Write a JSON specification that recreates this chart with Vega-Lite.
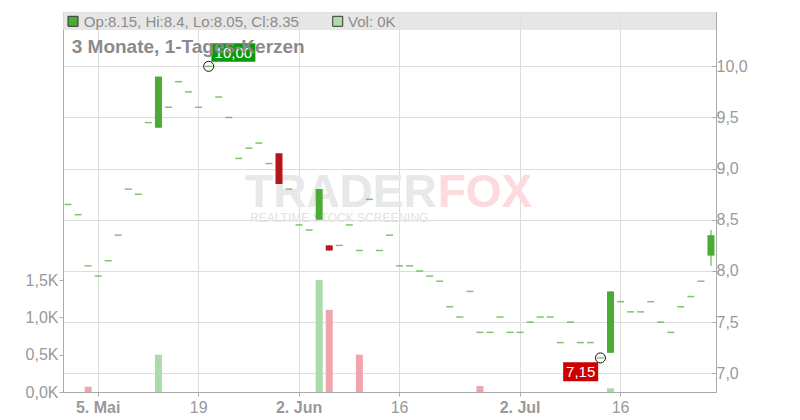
{
  "$schema": "https://vega.github.io/schema/vega-lite/v6.json",
  "width": 653,
  "height": 380,
  "autosize": {"type": "none"},
  "padding": {"left": 63, "top": 12, "right": 84, "bottom": 28},
  "background": "white",
  "config": {
    "font": "Liberation Sans",
    "view": {"stroke": "#cccccc"},
    "axis": {"labelFont": "Liberation Sans", "labelColor": "#999999", "labelFontSize": 16, "title": null, "domainColor": "#aaaaaa", "tickColor": "#aaaaaa", "tickSize": 4, "gridColor": "#dddddd"},
    "axisX": {"labelAngle": 0, "labelPadding": 3, "bandPosition": 0.5},
    "axisRight": {"labelPadding": 4, "tickSize": -4},
    "axisLeft": {"grid": false, "labelPadding": 1}
  },
  "datasets": {
    "ohlc": [
      {"d":"2025-04-29","o":8.65,"h":8.65,"l":8.65,"c":8.65,"v":0},
      {"d":"2025-04-30","o":8.55,"h":8.55,"l":8.55,"c":8.55,"v":0},
      {"d":"2025-05-02","o":8.05,"h":8.05,"l":8.05,"c":8.05,"v":70,"t":"down"},
      {"d":"2025-05-05","o":7.95,"h":7.95,"l":7.95,"c":7.95,"v":0},
      {"d":"2025-05-06","o":8.10,"h":8.10,"l":8.10,"c":8.10,"v":0},
      {"d":"2025-05-07","o":8.35,"h":8.35,"l":8.35,"c":8.35,"v":0},
      {"d":"2025-05-08","o":8.80,"h":8.80,"l":8.80,"c":8.80,"v":0},
      {"d":"2025-05-09","o":8.75,"h":8.75,"l":8.75,"c":8.75,"v":0},
      {"d":"2025-05-12","o":9.45,"h":9.45,"l":9.45,"c":9.45,"v":0},
      {"d":"2025-05-13","o":9.40,"h":9.90,"l":9.40,"c":9.90,"v":500,"t":"up"},
      {"d":"2025-05-14","o":9.60,"h":9.60,"l":9.60,"c":9.60,"v":0},
      {"d":"2025-05-15","o":9.85,"h":9.85,"l":9.85,"c":9.85,"v":0},
      {"d":"2025-05-16","o":9.75,"h":9.75,"l":9.75,"c":9.75,"v":0},
      {"d":"2025-05-19","o":9.60,"h":9.60,"l":9.60,"c":9.60,"v":0},
      {"d":"2025-05-20","o":10.00,"h":10.00,"l":10.00,"c":10.00,"v":0},
      {"d":"2025-05-21","o":9.70,"h":9.70,"l":9.70,"c":9.70,"v":0},
      {"d":"2025-05-22","o":9.50,"h":9.50,"l":9.50,"c":9.50,"v":0},
      {"d":"2025-05-23","o":9.10,"h":9.10,"l":9.10,"c":9.10,"v":0},
      {"d":"2025-05-26","o":9.20,"h":9.20,"l":9.20,"c":9.20,"v":0},
      {"d":"2025-05-27","o":9.25,"h":9.25,"l":9.25,"c":9.25,"v":0},
      {"d":"2025-05-28","o":9.05,"h":9.05,"l":9.05,"c":9.05,"v":0},
      {"d":"2025-05-29","o":9.15,"h":9.15,"l":8.85,"c":8.85,"v":0},
      {"d":"2025-05-30","o":8.80,"h":8.80,"l":8.80,"c":8.80,"v":0},
      {"d":"2025-06-02","o":8.45,"h":8.45,"l":8.45,"c":8.45,"v":0},
      {"d":"2025-06-03","o":8.40,"h":8.40,"l":8.40,"c":8.40,"v":0},
      {"d":"2025-06-04","o":8.50,"h":8.80,"l":8.50,"c":8.80,"v":1500,"t":"up"},
      {"d":"2025-06-05","o":8.25,"h":8.25,"l":8.20,"c":8.20,"v":1100,"t":"down"},
      {"d":"2025-06-06","o":8.25,"h":8.25,"l":8.25,"c":8.25,"v":0},
      {"d":"2025-06-09","o":8.45,"h":8.45,"l":8.45,"c":8.45,"v":0},
      {"d":"2025-06-10","o":8.20,"h":8.20,"l":8.20,"c":8.20,"v":500,"t":"down"},
      {"d":"2025-06-11","o":8.70,"h":8.70,"l":8.70,"c":8.70,"v":0},
      {"d":"2025-06-12","o":8.20,"h":8.20,"l":8.20,"c":8.20,"v":0},
      {"d":"2025-06-13","o":8.35,"h":8.35,"l":8.35,"c":8.35,"v":0},
      {"d":"2025-06-16","o":8.05,"h":8.05,"l":8.05,"c":8.05,"v":0},
      {"d":"2025-06-17","o":8.05,"h":8.05,"l":8.05,"c":8.05,"v":0},
      {"d":"2025-06-18","o":8.00,"h":8.00,"l":8.00,"c":8.00,"v":0},
      {"d":"2025-06-19","o":7.95,"h":7.95,"l":7.95,"c":7.95,"v":0},
      {"d":"2025-06-20","o":7.90,"h":7.90,"l":7.90,"c":7.90,"v":0},
      {"d":"2025-06-23","o":7.65,"h":7.65,"l":7.65,"c":7.65,"v":0},
      {"d":"2025-06-24","o":7.55,"h":7.55,"l":7.55,"c":7.55,"v":0},
      {"d":"2025-06-25","o":7.80,"h":7.80,"l":7.80,"c":7.80,"v":0},
      {"d":"2025-06-26","o":7.40,"h":7.40,"l":7.40,"c":7.40,"v":80,"t":"down"},
      {"d":"2025-06-27","o":7.40,"h":7.40,"l":7.40,"c":7.40,"v":0},
      {"d":"2025-06-30","o":7.55,"h":7.55,"l":7.55,"c":7.55,"v":0},
      {"d":"2025-07-01","o":7.40,"h":7.40,"l":7.40,"c":7.40,"v":0},
      {"d":"2025-07-02","o":7.40,"h":7.40,"l":7.40,"c":7.40,"v":0},
      {"d":"2025-07-03","o":7.50,"h":7.50,"l":7.50,"c":7.50,"v":0},
      {"d":"2025-07-04","o":7.55,"h":7.55,"l":7.55,"c":7.55,"v":0},
      {"d":"2025-07-07","o":7.55,"h":7.55,"l":7.55,"c":7.55,"v":0},
      {"d":"2025-07-08","o":7.30,"h":7.30,"l":7.30,"c":7.30,"v":0},
      {"d":"2025-07-09","o":7.50,"h":7.50,"l":7.50,"c":7.50,"v":0},
      {"d":"2025-07-10","o":7.30,"h":7.30,"l":7.30,"c":7.30,"v":0},
      {"d":"2025-07-11","o":7.30,"h":7.30,"l":7.30,"c":7.30,"v":0},
      {"d":"2025-07-14","o":7.15,"h":7.15,"l":7.15,"c":7.15,"v":0},
      {"d":"2025-07-15","o":7.20,"h":7.80,"l":7.20,"c":7.80,"v":50,"t":"up"},
      {"d":"2025-07-16","o":7.70,"h":7.70,"l":7.70,"c":7.70,"v":0},
      {"d":"2025-07-17","o":7.60,"h":7.60,"l":7.60,"c":7.60,"v":0},
      {"d":"2025-07-18","o":7.60,"h":7.60,"l":7.60,"c":7.60,"v":0},
      {"d":"2025-07-21","o":7.70,"h":7.70,"l":7.70,"c":7.70,"v":0},
      {"d":"2025-07-22","o":7.50,"h":7.50,"l":7.50,"c":7.50,"v":0},
      {"d":"2025-07-23","o":7.40,"h":7.40,"l":7.40,"c":7.40,"v":0},
      {"d":"2025-07-24","o":7.65,"h":7.65,"l":7.65,"c":7.65,"v":0},
      {"d":"2025-07-25","o":7.75,"h":7.75,"l":7.75,"c":7.75,"v":0},
      {"d":"2025-07-28","o":7.90,"h":7.90,"l":7.90,"c":7.90,"v":0},
      {"d":"2025-07-29","o":8.15,"h":8.40,"l":8.05,"c":8.35,"v":0}
    ]
  },
  "data": {"name": "ohlc"},
  "layer": [
    {
      "transform": [{"filter": "datum.v > 0"}],
      "mark": {"type": "bar", "width": 7},
      "encoding": {
        "x": {"field": "d", "type": "ordinal", "scale": {"type": "band", "paddingInner": 0, "paddingOuter": 0},
          "axis": {"values": ["2025-05-05", "2025-05-19", "2025-06-02", "2025-06-16", "2025-07-02", "2025-07-16"], "labelExpr": "datum.value == '2025-05-05' ? '5. Mai' : datum.value == '2025-05-19' ? '19' : datum.value == '2025-06-02' ? '2. Jun' : datum.value == '2025-06-16' ? '16' : datum.value == '2025-07-02' ? '2. Jul' : '16'", "labelFontWeight": {"condition": {"test": "datum.value == '2025-05-05' || datum.value == '2025-06-02' || datum.value == '2025-07-02'", "value": "bold"}, "value": "normal"}, "grid": true}},
        "y": {"field": "v", "type": "quantitative", "scale": {"domain": [0, 5090], "nice": false},
          "axis": {"orient": "left", "values": [0, 500, 1000, 1500], "labelExpr": "replace(format(datum.value / 1000, '.1f'), '.', ',') + 'K'", "grid": false}},
        "color": {"condition": {"test": "datum.t === 'down'", "value": "#f0a5ad"}, "value": "#aadcaa"}
      }
    },
    {
      "layer": [
        {
          "data": {"values": [{}]},
          "mark": {"type": "text", "text": "TRADER", "align": "right", "baseline": "alphabetic", "fontSize": 46, "fontWeight": "bold", "color": "#e8e8e8", "dx": -3},
          "encoding": {
            "x": {"datum": "2025-06-20", "type": "ordinal", "scale": {"type": "band", "paddingInner": 0, "paddingOuter": 0},
              "axis": {"values": ["2025-05-05", "2025-05-19", "2025-06-02", "2025-06-16", "2025-07-02", "2025-07-16"], "labelExpr": "datum.value == '2025-05-05' ? '5. Mai' : datum.value == '2025-05-19' ? '19' : datum.value == '2025-06-02' ? '2. Jun' : datum.value == '2025-06-16' ? '16' : datum.value == '2025-07-02' ? '2. Jul' : '16'", "labelFontWeight": {"condition": {"test": "datum.value == '2025-05-05' || datum.value == '2025-06-02' || datum.value == '2025-07-02'", "value": "bold"}, "value": "normal"}, "grid": true}},
            "y": {"datum": 8.625, "type": "quantitative", "scale": {"domain": [6.817, 10.531], "nice": false, "zero": false},
              "axis": {"orient": "right", "values": [7, 7.5, 8, 8.5, 9, 9.5, 10], "labelExpr": "replace(format(datum.value, '.1f'), '.', ',')", "grid": true}}
          }
        },
        {
          "data": {"values": [{}]},
          "mark": {"type": "text", "text": "FOX", "align": "left", "baseline": "alphabetic", "fontSize": 46, "fontWeight": "bold", "color": "#fcdade", "dx": -2},
          "encoding": {
            "x": {"datum": "2025-06-20", "type": "ordinal", "scale": {"type": "band", "paddingInner": 0, "paddingOuter": 0},
              "axis": {"values": ["2025-05-05", "2025-05-19", "2025-06-02", "2025-06-16", "2025-07-02", "2025-07-16"], "labelExpr": "datum.value == '2025-05-05' ? '5. Mai' : datum.value == '2025-05-19' ? '19' : datum.value == '2025-06-02' ? '2. Jun' : datum.value == '2025-06-16' ? '16' : datum.value == '2025-07-02' ? '2. Jul' : '16'", "labelFontWeight": {"condition": {"test": "datum.value == '2025-05-05' || datum.value == '2025-06-02' || datum.value == '2025-07-02'", "value": "bold"}, "value": "normal"}, "grid": true}},
            "y": {"datum": 8.625, "type": "quantitative", "scale": {"domain": [6.817, 10.531], "nice": false, "zero": false},
              "axis": {"orient": "right", "values": [7, 7.5, 8, 8.5, 9, 9.5, 10], "labelExpr": "replace(format(datum.value, '.1f'), '.', ',')", "grid": true}}
          }
        },
        {
          "data": {"values": [{}]},
          "mark": {"type": "text", "text": "REALTIME STOCK SCREENING", "align": "center", "baseline": "alphabetic", "fontSize": 12, "color": "#e2e2e2"},
          "encoding": {
            "x": {"datum": "2025-06-06", "type": "ordinal", "scale": {"type": "band", "paddingInner": 0, "paddingOuter": 0},
              "axis": {"values": ["2025-05-05", "2025-05-19", "2025-06-02", "2025-06-16", "2025-07-02", "2025-07-16"], "labelExpr": "datum.value == '2025-05-05' ? '5. Mai' : datum.value == '2025-05-19' ? '19' : datum.value == '2025-06-02' ? '2. Jun' : datum.value == '2025-06-16' ? '16' : datum.value == '2025-07-02' ? '2. Jul' : '16'", "labelFontWeight": {"condition": {"test": "datum.value == '2025-05-05' || datum.value == '2025-06-02' || datum.value == '2025-07-02'", "value": "bold"}, "value": "normal"}, "grid": true}},
            "y": {"datum": 8.478, "type": "quantitative", "scale": {"domain": [6.817, 10.531], "nice": false, "zero": false},
              "axis": {"orient": "right", "values": [7, 7.5, 8, 8.5, 9, 9.5, 10], "labelExpr": "replace(format(datum.value, '.1f'), '.', ',')", "grid": true}}
          }
        },
        {
          "mark": {"type": "rule", "strokeWidth": 1},
          "encoding": {
            "x": {"field": "d", "type": "ordinal", "scale": {"type": "band", "paddingInner": 0, "paddingOuter": 0},
              "axis": {"values": ["2025-05-05", "2025-05-19", "2025-06-02", "2025-06-16", "2025-07-02", "2025-07-16"], "labelExpr": "datum.value == '2025-05-05' ? '5. Mai' : datum.value == '2025-05-19' ? '19' : datum.value == '2025-06-02' ? '2. Jun' : datum.value == '2025-06-16' ? '16' : datum.value == '2025-07-02' ? '2. Jul' : '16'", "labelFontWeight": {"condition": {"test": "datum.value == '2025-05-05' || datum.value == '2025-06-02' || datum.value == '2025-07-02'", "value": "bold"}, "value": "normal"}, "grid": true}},
            "y": {"field": "l", "type": "quantitative", "scale": {"domain": [6.817, 10.531], "nice": false, "zero": false},
              "axis": {"orient": "right", "values": [7, 7.5, 8, 8.5, 9, 9.5, 10], "labelExpr": "replace(format(datum.value, '.1f'), '.', ',')", "grid": true}},
            "y2": {"field": "h"},
            "color": {"condition": {"test": "datum.c < datum.o", "value": "#b5151b"}, "value": "#4aab35"}
          }
        },
        {
          "transform": [{"filter": "datum.o != datum.c"}],
          "mark": {"type": "bar", "width": 7},
          "encoding": {
            "x": {"field": "d", "type": "ordinal", "scale": {"type": "band", "paddingInner": 0, "paddingOuter": 0},
              "axis": {"values": ["2025-05-05", "2025-05-19", "2025-06-02", "2025-06-16", "2025-07-02", "2025-07-16"], "labelExpr": "datum.value == '2025-05-05' ? '5. Mai' : datum.value == '2025-05-19' ? '19' : datum.value == '2025-06-02' ? '2. Jun' : datum.value == '2025-06-16' ? '16' : datum.value == '2025-07-02' ? '2. Jul' : '16'", "labelFontWeight": {"condition": {"test": "datum.value == '2025-05-05' || datum.value == '2025-06-02' || datum.value == '2025-07-02'", "value": "bold"}, "value": "normal"}, "grid": true}},
            "y": {"field": "o", "type": "quantitative", "scale": {"domain": [6.817, 10.531], "nice": false, "zero": false},
              "axis": {"orient": "right", "values": [7, 7.5, 8, 8.5, 9, 9.5, 10], "labelExpr": "replace(format(datum.value, '.1f'), '.', ',')", "grid": true}},
            "y2": {"field": "c"},
            "color": {"condition": {"test": "datum.c < datum.o", "value": "#b5151b"}, "value": "#4aab35"}
          }
        },
        {
          "transform": [{"filter": "datum.o == datum.c"}],
          "mark": {"type": "tick", "size": 7, "thickness": 1.5, "color": "#4aab35"},
          "encoding": {
            "x": {"field": "d", "type": "ordinal", "scale": {"type": "band", "paddingInner": 0, "paddingOuter": 0},
              "axis": {"values": ["2025-05-05", "2025-05-19", "2025-06-02", "2025-06-16", "2025-07-02", "2025-07-16"], "labelExpr": "datum.value == '2025-05-05' ? '5. Mai' : datum.value == '2025-05-19' ? '19' : datum.value == '2025-06-02' ? '2. Jun' : datum.value == '2025-06-16' ? '16' : datum.value == '2025-07-02' ? '2. Jul' : '16'", "labelFontWeight": {"condition": {"test": "datum.value == '2025-05-05' || datum.value == '2025-06-02' || datum.value == '2025-07-02'", "value": "bold"}, "value": "normal"}, "grid": true}},
            "y": {"field": "o", "type": "quantitative", "scale": {"domain": [6.817, 10.531], "nice": false, "zero": false},
              "axis": {"orient": "right", "values": [7, 7.5, 8, 8.5, 9, 9.5, 10], "labelExpr": "replace(format(datum.value, '.1f'), '.', ',')", "grid": true}}
          }
        },
        {
          "data": {"values": [{}]},
          "mark": {"type": "rect", "color": "#e2e2e2", "opacity": 0.85},
          "encoding": {
            "y": {"datum": 10.531, "type": "quantitative", "scale": {"domain": [6.817, 10.531], "nice": false, "zero": false},
              "axis": {"orient": "right", "values": [7, 7.5, 8, 8.5, 9, 9.5, 10], "labelExpr": "replace(format(datum.value, '.1f'), '.', ',')", "grid": true}},
            "y2": {"datum": 10.355}
          }
        },
        {
          "data": {"values": [{"txt": "Op:8.15, Hi:8.4, Lo:8.05, Cl:8.35", "col": "candle"}]},
          "layer": [
            {
              "mark": {"type": "point", "shape": "square", "size": 100, "filled": true, "fill": "#4aab35", "stroke": "#333333", "strokeWidth": 1, "opacity": 1, "xOffset": 5},
              "encoding": {
                "x": {"datum": "2025-04-29", "type": "ordinal", "scale": {"type": "band", "paddingInner": 0, "paddingOuter": 0},
                  "axis": {"values": ["2025-05-05", "2025-05-19", "2025-06-02", "2025-06-16", "2025-07-02", "2025-07-16"], "labelExpr": "datum.value == '2025-05-05' ? '5. Mai' : datum.value == '2025-05-19' ? '19' : datum.value == '2025-06-02' ? '2. Jun' : datum.value == '2025-06-16' ? '16' : datum.value == '2025-07-02' ? '2. Jul' : '16'", "labelFontWeight": {"condition": {"test": "datum.value == '2025-05-05' || datum.value == '2025-06-02' || datum.value == '2025-07-02'", "value": "bold"}, "value": "normal"}, "grid": true}},
                "y": {"datum": 10.44, "type": "quantitative", "scale": {"domain": [6.817, 10.531], "nice": false, "zero": false},
                  "axis": {"orient": "right", "values": [7, 7.5, 8, 8.5, 9, 9.5, 10], "labelExpr": "replace(format(datum.value, '.1f'), '.', ',')", "grid": true}}
              }
            },
            {
              "mark": {"type": "point", "shape": "square", "size": 100, "filled": true, "fill": "#aadcaa", "stroke": "#333333", "strokeWidth": 1, "opacity": 1, "xOffset": 269.7},
              "encoding": {
                "x": {"datum": "2025-04-29", "type": "ordinal", "scale": {"type": "band", "paddingInner": 0, "paddingOuter": 0},
                  "axis": {"values": ["2025-05-05", "2025-05-19", "2025-06-02", "2025-06-16", "2025-07-02", "2025-07-16"], "labelExpr": "datum.value == '2025-05-05' ? '5. Mai' : datum.value == '2025-05-19' ? '19' : datum.value == '2025-06-02' ? '2. Jun' : datum.value == '2025-06-16' ? '16' : datum.value == '2025-07-02' ? '2. Jul' : '16'", "labelFontWeight": {"condition": {"test": "datum.value == '2025-05-05' || datum.value == '2025-06-02' || datum.value == '2025-07-02'", "value": "bold"}, "value": "normal"}, "grid": true}},
                "y": {"datum": 10.44, "type": "quantitative", "scale": {"domain": [6.817, 10.531], "nice": false, "zero": false},
                  "axis": {"orient": "right", "values": [7, 7.5, 8, 8.5, 9, 9.5, 10], "labelExpr": "replace(format(datum.value, '.1f'), '.', ',')", "grid": true}}
              }
            },
            {
              "mark": {"type": "text", "text": "Op:8.15, Hi:8.4, Lo:8.05, Cl:8.35", "align": "left", "baseline": "alphabetic", "fontSize": 15, "color": "#8c8c8c", "dx": 15.7},
              "encoding": {
                "x": {"datum": "2025-04-29", "type": "ordinal", "scale": {"type": "band", "paddingInner": 0, "paddingOuter": 0},
                  "axis": {"values": ["2025-05-05", "2025-05-19", "2025-06-02", "2025-06-16", "2025-07-02", "2025-07-16"], "labelExpr": "datum.value == '2025-05-05' ? '5. Mai' : datum.value == '2025-05-19' ? '19' : datum.value == '2025-06-02' ? '2. Jun' : datum.value == '2025-06-16' ? '16' : datum.value == '2025-07-02' ? '2. Jul' : '16'", "labelFontWeight": {"condition": {"test": "datum.value == '2025-05-05' || datum.value == '2025-06-02' || datum.value == '2025-07-02'", "value": "bold"}, "value": "normal"}, "grid": true}},
                "y": {"datum": 10.387, "type": "quantitative", "scale": {"domain": [6.817, 10.531], "nice": false, "zero": false},
                  "axis": {"orient": "right", "values": [7, 7.5, 8, 8.5, 9, 9.5, 10], "labelExpr": "replace(format(datum.value, '.1f'), '.', ',')", "grid": true}}
              }
            },
            {
              "mark": {"type": "text", "text": "Vol: 0K", "align": "left", "baseline": "alphabetic", "fontSize": 15, "color": "#8c8c8c", "dx": 280},
              "encoding": {
                "x": {"datum": "2025-04-29", "type": "ordinal", "scale": {"type": "band", "paddingInner": 0, "paddingOuter": 0},
                  "axis": {"values": ["2025-05-05", "2025-05-19", "2025-06-02", "2025-06-16", "2025-07-02", "2025-07-16"], "labelExpr": "datum.value == '2025-05-05' ? '5. Mai' : datum.value == '2025-05-19' ? '19' : datum.value == '2025-06-02' ? '2. Jun' : datum.value == '2025-06-16' ? '16' : datum.value == '2025-07-02' ? '2. Jul' : '16'", "labelFontWeight": {"condition": {"test": "datum.value == '2025-05-05' || datum.value == '2025-06-02' || datum.value == '2025-07-02'", "value": "bold"}, "value": "normal"}, "grid": true}},
                "y": {"datum": 10.387, "type": "quantitative", "scale": {"domain": [6.817, 10.531], "nice": false, "zero": false},
                  "axis": {"orient": "right", "values": [7, 7.5, 8, 8.5, 9, 9.5, 10], "labelExpr": "replace(format(datum.value, '.1f'), '.', ',')", "grid": true}}
              }
            }
          ]
        },
        {
          "data": {"values": [{"d": "2025-05-20", "p": 10.0, "label": "10,00"}]},
          "encoding": {
            "x": {"field": "d", "type": "ordinal", "scale": {"type": "band", "paddingInner": 0, "paddingOuter": 0},
              "axis": {"values": ["2025-05-05", "2025-05-19", "2025-06-02", "2025-06-16", "2025-07-02", "2025-07-16"], "labelExpr": "datum.value == '2025-05-05' ? '5. Mai' : datum.value == '2025-05-19' ? '19' : datum.value == '2025-06-02' ? '2. Jun' : datum.value == '2025-06-16' ? '16' : datum.value == '2025-07-02' ? '2. Jul' : '16'", "labelFontWeight": {"condition": {"test": "datum.value == '2025-05-05' || datum.value == '2025-06-02' || datum.value == '2025-07-02'", "value": "bold"}, "value": "normal"}, "grid": true}},
            "y": {"field": "p", "type": "quantitative", "scale": {"domain": [6.817, 10.531], "nice": false, "zero": false},
              "axis": {"orient": "right", "values": [7, 7.5, 8, 8.5, 9, 9.5, 10], "labelExpr": "replace(format(datum.value, '.1f'), '.', ',')", "grid": true}}
          },
          "layer": [
            {"mark": {"type": "point", "shape": "M0.27,-2.3H4.67V-0.46H0.27Z", "size": 400, "filled": true, "fill": "#0b9a0b", "strokeWidth": 0, "opacity": 1}},
            {"mark": {"type": "text", "align": "center", "baseline": "middle", "fontSize": 15, "color": "#ffffff", "dx": 24.7, "dy": -13.5}, "encoding": {"text": {"field": "label"}}},
            {"mark": {"type": "point", "shape": "circle", "size": 100, "filled": false, "stroke": "#111111", "strokeWidth": 1, "opacity": 1}}
          ]
        },
        {
          "data": {"values": [{"d": "2025-07-14", "p": 7.15, "label": "7,15"}]},
          "encoding": {
            "x": {"field": "d", "type": "ordinal", "scale": {"type": "band", "paddingInner": 0, "paddingOuter": 0},
              "axis": {"values": ["2025-05-05", "2025-05-19", "2025-06-02", "2025-06-16", "2025-07-02", "2025-07-16"], "labelExpr": "datum.value == '2025-05-05' ? '5. Mai' : datum.value == '2025-05-19' ? '19' : datum.value == '2025-06-02' ? '2. Jun' : datum.value == '2025-06-16' ? '16' : datum.value == '2025-07-02' ? '2. Jul' : '16'", "labelFontWeight": {"condition": {"test": "datum.value == '2025-05-05' || datum.value == '2025-06-02' || datum.value == '2025-07-02'", "value": "bold"}, "value": "normal"}, "grid": true}},
            "y": {"field": "p", "type": "quantitative", "scale": {"domain": [6.817, 10.531], "nice": false, "zero": false},
              "axis": {"orient": "right", "values": [7, 7.5, 8, 8.5, 9, 9.5, 10], "labelExpr": "replace(format(datum.value, '.1f'), '.', ',')", "grid": true}}
          },
          "layer": [
            {"mark": {"type": "point", "shape": "M-3.73,0.44H-0.23V2.34H-3.73Z", "size": 400, "filled": true, "fill": "#cc0000", "strokeWidth": 0, "opacity": 1}},
            {"mark": {"type": "text", "align": "center", "baseline": "middle", "fontSize": 15, "color": "#ffffff", "dx": -19.8, "dy": 14.2}, "encoding": {"text": {"field": "label"}}},
            {"mark": {"type": "point", "shape": "circle", "size": 100, "filled": false, "stroke": "#111111", "strokeWidth": 1, "opacity": 1}}
          ]
        },
        {
          "data": {"values": [{}]},
          "mark": {"type": "text", "text": "3 Monate, 1-Tages-Kerzen", "align": "left", "baseline": "alphabetic", "fontSize": 19, "fontWeight": "bold", "color": "#8a8a8a", "dx": 3.7},
          "encoding": {
            "x": {"datum": "2025-04-29", "type": "ordinal", "scale": {"type": "band", "paddingInner": 0, "paddingOuter": 0},
              "axis": {"values": ["2025-05-05", "2025-05-19", "2025-06-02", "2025-06-16", "2025-07-02", "2025-07-16"], "labelExpr": "datum.value == '2025-05-05' ? '5. Mai' : datum.value == '2025-05-19' ? '19' : datum.value == '2025-06-02' ? '2. Jun' : datum.value == '2025-06-16' ? '16' : datum.value == '2025-07-02' ? '2. Jul' : '16'", "labelFontWeight": {"condition": {"test": "datum.value == '2025-05-05' || datum.value == '2025-06-02' || datum.value == '2025-07-02'", "value": "bold"}, "value": "normal"}, "grid": true}},
            "y": {"datum": 10.13, "type": "quantitative", "scale": {"domain": [6.817, 10.531], "nice": false, "zero": false},
              "axis": {"orient": "right", "values": [7, 7.5, 8, 8.5, 9, 9.5, 10], "labelExpr": "replace(format(datum.value, '.1f'), '.', ',')", "grid": true}}
          }
        }
      ]
    }
  ],
  "resolve": {"scale": {"y": "independent"}}
}
